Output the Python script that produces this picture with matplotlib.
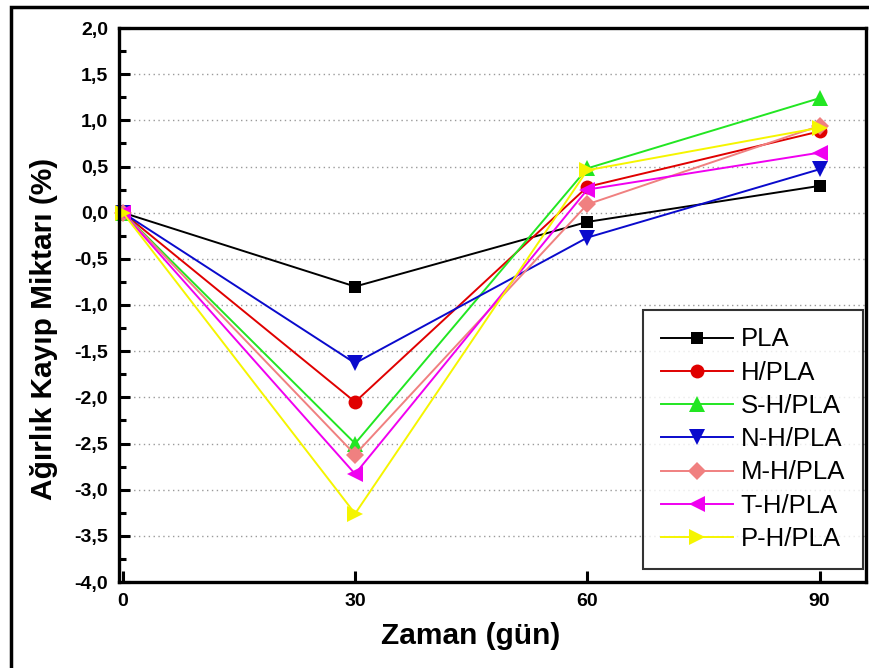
import matplotlib
matplotlib.use("Agg")
import matplotlib.pyplot as plt
from matplotlib.patches import Rectangle
from matplotlib.ticker import MultipleLocator, FuncFormatter

plt.rcParams['font.family'] = ['Liberation Sans', 'DejaVu Sans']

# Weight loss (%) over time (days)
days = [0, 30, 60, 90]
series_names = ["PLA", "H/PLA", "S-H/PLA", "N-H/PLA", "M-H/PLA", "T-H/PLA", "P-H/PLA"]
pla = [0.0, -0.80, -0.10, 0.29]
h_pla = [0.0, -2.05, 0.28, 0.88]
s_h_pla = [0.0, -2.50, 0.48, 1.24]
n_h_pla = [0.0, -1.63, -0.27, 0.47]
m_h_pla = [0.0, -2.62, 0.09, 0.94]
t_h_pla = [0.0, -2.83, 0.25, 0.65]
p_h_pla = [0.0, -3.26, 0.46, 0.92]
series_values = [pla, h_pla, s_h_pla, n_h_pla, m_h_pla, t_h_pla, p_h_pla]

colors = ["#000000", "#E00000", "#22E622", "#0A0ACC", "#F08080", "#F000F0", "#F5F500"]
markers = ["s", "o", "^", "v", "D", "<", ">"]
msizes = [8, 10, 11, 11, 9, 11, 11]

fig = plt.figure(figsize=(8.7, 6.68), dpi=100)
ax = fig.add_axes([119 / 870, 86 / 668, 747 / 870, 554 / 668])

for name, vals, c, m, ms in zip(series_names, series_values, colors, markers, msizes):
    ax.plot(days, vals, color=c, marker=m, markersize=ms, markeredgewidth=0,
            linewidth=1.4, label=name, clip_on=False)

ax.set_xlim(-0.5, 96)
ax.set_ylim(-4.0, 2.0)
ax.set_xticks(days)
ax.yaxis.set_major_locator(MultipleLocator(0.5))
ax.yaxis.set_minor_locator(MultipleLocator(0.25))
ax.yaxis.set_major_formatter(FuncFormatter(lambda v, p: f"{v:.1f}".replace(".", ",")))

for yv in [-3.5, -3.0, -2.5, -2.0, -1.5, -1.0, -0.5, 0.0, 0.5, 1.0, 1.5]:
    ax.axhline(yv, color="#9a9a9a", linewidth=1.0, linestyle=(0, (1, 2.5)), zorder=0)

ax.tick_params(axis="both", which="major", direction="in", length=8, width=2.2,
               labelsize=14, pad=8, top=False, right=False)
ax.tick_params(axis="y", which="minor", direction="in", length=5, width=2.2, right=False)
for lab in ax.get_xticklabels() + ax.get_yticklabels():
    lab.set_fontweight("bold")

for sp in ax.spines.values():
    sp.set_linewidth(2.4)

ax.set_xlabel("Zaman (gün)", fontsize=21.5, fontweight="bold")
ax.xaxis.set_label_coords(0.471, -0.072)
ax.set_ylabel("Ağırlık Kayıp Miktarı (%)", fontsize=21.5, fontweight="bold")
ax.yaxis.set_label_coords(-0.082, 0.457)

leg = ax.legend(loc="lower right", bbox_to_anchor=(0.996, 0.0235), borderaxespad=0,
                fontsize=18.5, handlelength=2.8, handletextpad=0.3, labelspacing=0.36,
                frameon=True, fancybox=False, edgecolor="black", borderpad=0.7)
leg.get_frame().set_linewidth(1.5)

# Outer frame around the whole figure
fig.patches.append(Rectangle((11 / 870, -0.05), 1.2, 661 / 668 + 0.05,
                             transform=fig.transFigure, fill=False,
                             edgecolor="black", linewidth=2.5))

fig.savefig("out.png", dpi=100)
